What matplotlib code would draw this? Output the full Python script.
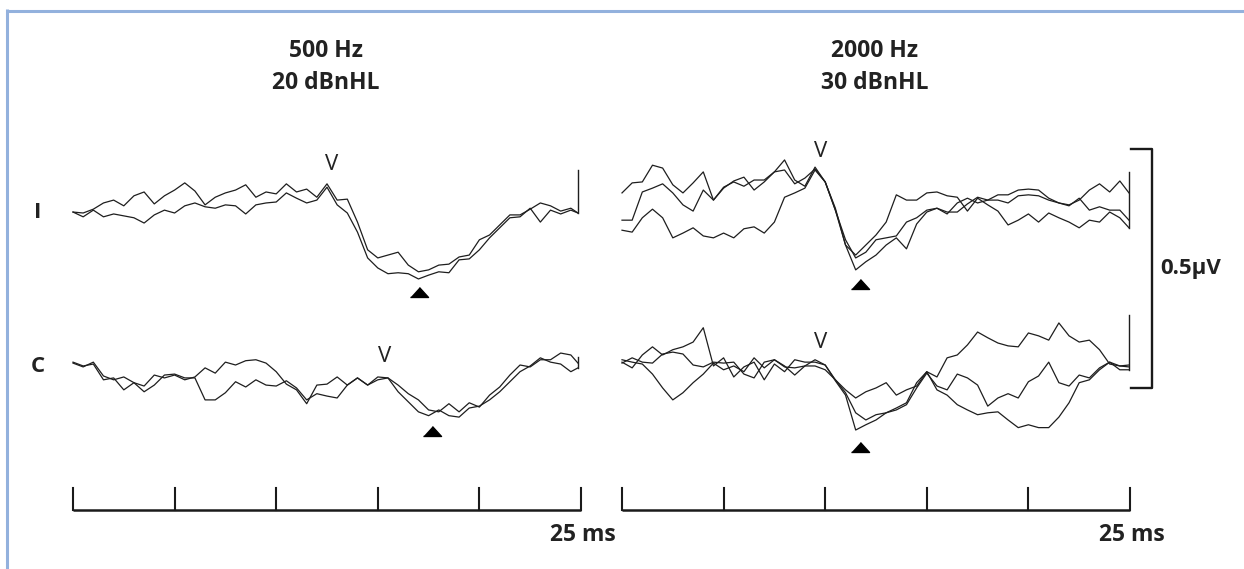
import numpy as np
import matplotlib
matplotlib.use("Agg")
import matplotlib.pyplot as plt
from matplotlib.lines import Line2D

plt.rcParams['font.family'] = ['Open Sans', 'DejaVu Sans']

# Sweep sample times in ms (0.5 ms steps, last sample = end of sweep)
t_grid = [float(v) for v in np.arange(0, 24.6, 0.5)]
time_500 = t_grid + [24.85]
time_2000 = t_grid + [24.95]

# ABR amplitudes in microvolts, one list per averaged run
# 500 Hz, 20 dBnHL, ipsilateral
ipsi_500_run1 = [.002, 0, .008, .021, .027, .015, .036, .044, .019, .036, .048, .063, .046,
                 .017, .033, .042, .048, .059, .033, .044, .040, .061, .044, .050, .033, .061,
                 .027, .029, -.019, -.077, -.094, -.088, -.082, -.109, -.123, -.119, -.109,
                 -.107, -.092, -.088, -.056, -.046, -.025, -.004, -.004, .008, .021, .015,
                 .004, .010, 0]
ipsi_500_run2 = [.002, -.008, .006, -.008, -.002, -.006, -.010, -.021, -.004, .006, 0, .015,
                 .021, .013, .010, .017, .015, -.002, .017, .021, .023, .042, .031, .021, .027,
                 .054, .017, 0, -.040, -.094, -.115, -.127, -.125, -.127, -.138, -.130, -.123,
                 -.125, -.098, -.096, -.077, -.052, -.031, -.010, -.008, .010, -.019, .006,
                 -.002, .006, 0]
# 500 Hz, 20 dBnHL, contralateral
contra_500_run1 = [.008, 0, .010, -.019, -.027, -.021, -.033, -.040, -.017, -.023, -.017,
                   -.027, -.021, -.002, -.013, .010, .004, .013, .015, .008, -.010, -.036,
                   -.048, -.077, -.038, -.036, -.021, -.038, -.023, -.038, -.021, -.023, -.038,
                   -.056, -.069, -.090, -.094, -.077, -.094, -.075, -.084, -.059, -.042, -.017,
                   .004, 0, .015, .015, .029, .025, .008]
contra_500_run2 = [.010, .002, .006, -.027, -.023, -.048, -.033, -.052, -.038, -.017, -.015,
                   -.023, -.023, -.069, -.069, -.054, -.031, -.042, -.027, -.038, -.040, -.029,
                   -.044, -.069, -.056, -.061, -.065, -.038, -.023, -.038, -.027, -.023, -.052,
                   -.073, -.094, -.102, -.090, -.102, -.105, -.086, -.082, -.069, -.052, -.031,
                   -.010, .002, .019, .010, .006, -.010, -.002]
# 2000 Hz, 30 dBnHL, ipsilateral
ipsi_2000_run1 = [.042, .063, .065, .100, .094, .059, .042, .063, .086, .027, .052, .067, .075,
                  .048, .065, .086, .111, .069, .056, .096, .065, .010, -.067, -.088, -.067,
                  -.046, -.019, .038, .027, .027, .042, .044, .036, .033, .004, .031, .017, .004,
                  -.025, -.015, -.002, -.019, 0, -.010, -.019, -.031, -.015, -.019, .002, -.010,
                  -.031]
ipsi_2000_run2 = [-.015, -.015, .044, .052, .061, .042, .017, .004, .048, .027, .054, .065,
                  .056, .069, .069, .086, .090, .061, .073, .092, .065, .006, -.056, -.094,
                  -.082, -.056, -.052, -.048, -.019, -.010, .006, .010, -.002, .021, .031, .021,
                  .027, .027, .021, .036, .038, .036, .027, .021, .015, .031, .006, .013, .006,
                  .006, -.015]
ipsi_2000_run3 = [-.036, -.040, -.010, .008, -.010, -.052, -.042, -.031, -.048, -.052, -.042,
                  -.052, -.033, -.029, -.042, -.019, .033, .042, .052, .090, .065, .006, -.067,
                  -.119, -.102, -.088, -.067, -.052, -.075, -.023, .002, .010, .002, .002, .019,
                  .033, .027, .038, .038, .048, .050, .048, .031, .021, .017, .027, .048, .061,
                  .044, .067, .042]
# 2000 Hz, 30 dBnHL, contralateral
contra_2000_run1 = [.010, -.002, .025, .042, .025, .036, .042, .052, .082, .002, .019, -.021,
                    0, .010, -.027, .006, -.010, .015, .010, .010, .004, -.029, -.059, -.132,
                    -.121, -.111, -.096, -.086, -.075, -.033, -.010, -.048, -.059, -.079, -.090,
                    -.100, -.096, -.094, -.111, -.127, -.121, -.127, -.127, -.105, -.075, -.033,
                    -.027, -.006, .010, -.006, -.006]
contra_2000_run2 = [.015, .010, .006, -.015, -.044, -.069, -.054, -.033, -.015, .008, -.006,
                    .002, -.010, .019, -.002, .015, 0, -.002, .002, .002, -.006, -.027, -.048,
                    -.065, -.052, -.044, -.033, -.059, -.048, -.040, -.010, -.021, .019, .025,
                    .046, .073, .061, .050, .044, .042, .071, .065, .056, .092, .065, .052, .056,
                    .036, .006, .002, .004]
contra_2000_run3 = [.008, .019, .010, .008, .027, .031, .027, .004, 0, .010, .008, .010, -.015,
                    -.023, .010, .015, .002, -.017, .002, .015, .004, -.027, -.054, -.096, -.111,
                    -.100, -.096, -.090, -.079, -.044, -.013, -.040, -.048, -.015, -.023, -.038,
                    -.082, -.065, -.056, -.065, -.031, -.019, .010, -.033, -.040, -.017, -.023,
                    -.002, .010, .002, 0]

# Stimulus-artefact peak at the end of each sweep (uV)
end_spike_500 = {"I": .090, "C": .021}
end_spike_2000 = {"I": .086, "C": .109}

# Wave V latency / label height and trough marker (ms, uV)
wave_v_500 = {"I": (12.75, .102), "C": (15.35, .021)}
wave_v_2000 = {"I": (9.76, .128), "C": (9.76, .052)}
trough_500 = {"I": (17.03, -.165), "C": (17.67, -.134)}
trough_2000 = {"I": (11.69, -.149), "C": (11.69, -.167)}

row_offset = {"I": 0.0, "C": -0.322}
ear_labels = ["I", "C"]
panel_titles = [("500 Hz", "20 dBnHL"), ("2000 Hz", "30 dBnHL")]
sweep_ms = 25
tick_step_ms = 5
scale_uv = 0.5

panels = [
    {"time": time_500, "I": [ipsi_500_run1, ipsi_500_run2],
     "C": [contra_500_run1, contra_500_run2],
     "spike": end_spike_500, "wave_v": wave_v_500, "trough": trough_500},
    {"time": time_2000, "I": [ipsi_2000_run1, ipsi_2000_run2, ipsi_2000_run3],
     "C": [contra_2000_run1, contra_2000_run2, contra_2000_run3],
     "spike": end_spike_2000, "wave_v": wave_v_2000, "trough": trough_2000},
]

W, H = 1244, 569
PX_PER_UV = 478.0
BASE_PX = 213.0
y_top = BASE_PX / PX_PER_UV
y_bot = (BASE_PX - H) / PX_PER_UV

fig = plt.figure(figsize=(W / 100, H / 100), dpi=100)
fig.patch.set_facecolor("white")

# light blue frame along top and left
frame_col = "#93b1dd"
fig.add_artist(Line2D([6 / W, 1], [1 - 10.5 / H, 1 - 10.5 / H], color=frame_col, lw=2.2,
                      transform=fig.transFigure, solid_capstyle="butt"))
fig.add_artist(Line2D([7 / W, 7 / W], [0, 1 - 9 / H], color=frame_col, lw=2.2,
                      transform=fig.transFigure, solid_capstyle="butt"))

tri = [(-1, -0.55), (1, -0.55), (0, 0.55)]
trace_col = "#1e1e1e"
text_col = "#222222"
bar_y = (BASE_PX - 510) / PX_PER_UV
tick_top = (BASE_PX - 488) / PX_PER_UV

lefts = [73, 622]
for k, (panel, left) in enumerate(zip(panels, lefts)):
    ax = fig.add_axes([left / W, 0, 508 / W, 1])
    ax.set_xlim(0, sweep_ms)
    ax.set_ylim(y_bot, y_top)
    ax.axis("off")

    t = panel["time"]
    for ear in ear_labels:
        off = row_offset[ear]
        runs = panel[ear]
        for run in runs:
            ax.plot(t, np.array(run) + off, color=trace_col, lw=0.9, clip_on=False)
        lowest = min(r[-1] for r in runs)
        ax.plot([t[-1], t[-1]], [lowest + off, panel["spike"][ear] + off],
                color=trace_col, lw=1.0, clip_on=False)

        vx, vy = panel["wave_v"][ear]
        ax.text(vx, vy + off, "V", ha="center", va="center", fontsize=16,
                color=text_col)
        tx, ty = panel["trough"][ear]
        ax.plot([tx], [ty + off], marker=tri, markersize=13, color="black",
                linestyle="none", clip_on=False)

    # time scale bar
    ax.plot([0, sweep_ms], [bar_y, bar_y], color="#1a1a1a", lw=1.8,
            solid_capstyle="butt", clip_on=False)
    for tk in range(0, sweep_ms + 1, tick_step_ms):
        ax.plot([tk, tk], [bar_y, tick_top], color="#1a1a1a", lw=1.5, clip_on=False)
    ax.text(sweep_ms + 0.1, (BASE_PX - 535) / PX_PER_UV, "%d ms" % sweep_ms,
            ha="center", va="center", fontsize=16.5, fontweight="bold", color=text_col)

    line1, line2 = panel_titles[k]
    ax.text(12.45, (BASE_PX - 51) / PX_PER_UV, line1, ha="center", va="center",
            fontsize=16.5, fontweight="bold", color=text_col)
    ax.text(12.45, (BASE_PX - 83) / PX_PER_UV, line2, ha="center", va="center",
            fontsize=16.5, fontweight="bold", color=text_col)

    if k == 0:
        for ear in ear_labels:
            ax.text(-1.72, row_offset[ear], ear, ha="center", va="center",
                    fontsize=16, fontweight="bold", color=text_col)
    else:
        # amplitude scale bar
        sx = 26.08
        s_top = .134
        s_bot = s_top - scale_uv
        ax.plot([sx - 1.03, sx, sx, sx - 1.03], [s_top, s_top, s_bot, s_bot],
                color="#1a1a1a", lw=1.7, clip_on=False)
        ax.text(28.0, (s_top + s_bot) / 2, "%.1fµV" % scale_uv, ha="center",
                va="center", fontsize=16, fontweight="bold", color=text_col)

fig.savefig("out.png", dpi=100, facecolor="white")
